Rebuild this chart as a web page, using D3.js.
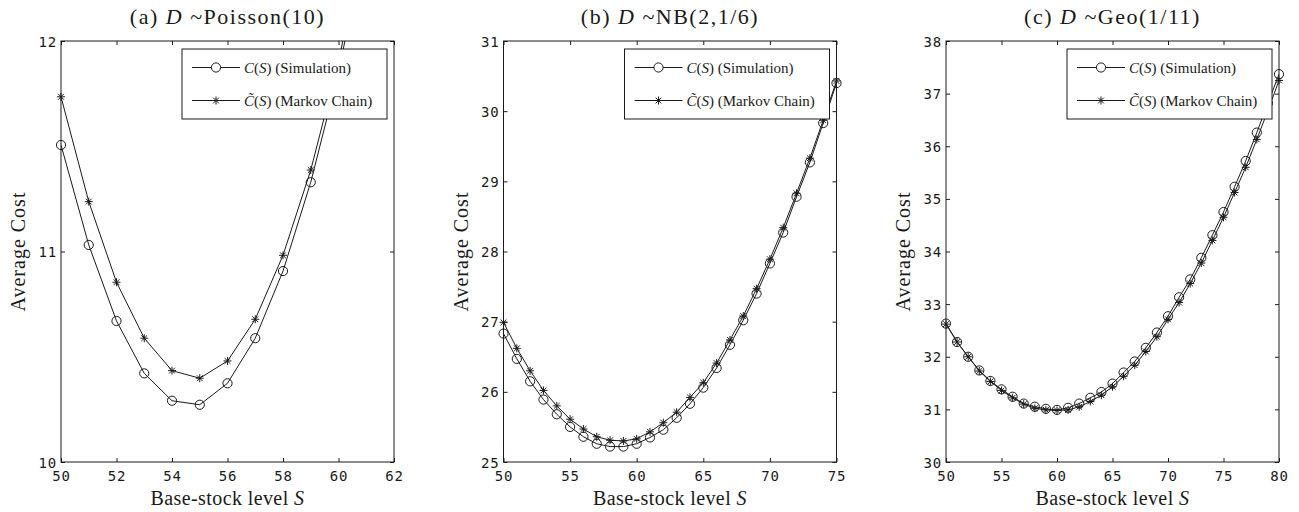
<!DOCTYPE html>
<html><head><meta charset="utf-8">
<script src="https://cdn.jsdelivr.net/npm/d3@7/dist/d3.min.js"></script>
<style>body{margin:0;background:#fff}svg{display:block}</style>
</head><body><svg id="c" width="1299" height="512"></svg>
<script>
// ---------- data ----------
const levelsA = [50,51,52,53,54,55,56,57,58,59,60,61,62];
const simA = [11.506,11.031,10.670,10.421,10.291,10.272,10.374,10.588,10.907,11.329,11.85,12.50,13.20];
const mcA  = [11.735,11.237,10.854,10.588,10.434,10.398,10.480,10.678,10.982,11.387,11.90,12.55,13.25];

const levelsB = [50,51,52,53,54,55,56,57,58,59,60,61,62,63,64,65,66,67,68,69,70,71,72,73,74,75];
const simB = [26.83,26.47,26.15,25.89,25.68,25.50,25.36,25.26,25.22,25.22,25.26,25.35,25.46,25.63,25.83,26.06,26.34,26.67,27.02,27.40,27.83,28.27,28.78,29.27,29.83,30.40];
const mcB  = [26.99,26.62,26.30,26.02,25.80,25.61,25.47,25.36,25.31,25.30,25.33,25.43,25.56,25.71,25.92,26.13,26.41,26.74,27.08,27.47,27.89,28.34,28.83,29.33,29.87,30.43];

const levelsC = [50,51,52,53,54,55,56,57,58,59,60,61,62,63,64,65,66,67,68,69,70,71,72,73,74,75,76,77,78,79,80];
const simC = [32.63,32.28,32.00,31.74,31.54,31.38,31.24,31.11,31.05,31.01,30.99,31.03,31.11,31.22,31.33,31.49,31.70,31.91,32.17,32.46,32.77,33.13,33.47,33.88,34.31,34.75,35.23,35.72,36.26,36.82,37.37];
const mcC  = [32.62,32.28,32.00,31.73,31.53,31.36,31.22,31.10,31.02,30.99,30.98,30.99,31.05,31.15,31.27,31.43,31.63,31.84,32.10,32.38,32.71,33.03,33.39,33.78,34.21,34.65,35.12,35.60,36.13,36.68,37.25];

const xTicksA = [50,52,54,56,58,60,62];
const yTicksA = [10,11,12];
const xTicksB = [50,55,60,65,70,75];
const yTicksB = [25,26,27,28,29,30,31];
const xTicksC = [50,55,60,65,70,75,80];
const yTicksC = [30,31,32,33,34,35,36,37,38];

const titlePrefix = ["(a) ","(b) ","(c) "];
const titleDist = ["~Poisson(10)","~NB(2,1/6)","~Geo(1/11)"];
const legendSim = ["C","(","S",") (Simulation)"];
const legendMC = ["C\u0303","(","S",") (Markov Chain)"];
const xLabelText = "Base-stock level ";
const yLabelText = "Average Cost";

// ---------- layout ----------
const svg = d3.select("#c");
const TOP = 41, BOTTOM = 462, W = 333;
const lefts = [61, 503.5, 946];
const panels = [
  {levels: levelsA, sim: simA, mc: mcA, xt: xTicksA, yt: yTicksA},
  {levels: levelsB, sim: simB, mc: mcB, xt: xTicksB, yt: yTicksB},
  {levels: levelsC, sim: simC, mc: mcC, xt: xTicksC, yt: yTicksC}
];
const SERIF = "'Liberation Serif', 'Times New Roman', serif";
const TICKF = "'DejaVu Sans Mono', monospace";
const INK = "#1a1a1a";

function starPath(r){
  const d = r*0.72;
  return `M${-r},0L${r},0M0,${-r}L0,${r}M${-d},${-d}L${d},${d}M${-d},${d}L${d},${-d}`;
}

panels.forEach((p, i) => {
  const L = lefts[i], R = L + W;
  const x = d3.scaleLinear().domain([p.xt[0], p.xt[p.xt.length-1]]).range([L, R]);
  const y = d3.scaleLinear().domain([p.yt[0], p.yt[p.yt.length-1]]).range([BOTTOM, TOP]);
  const g = svg.append("g");

  g.append("clipPath").attr("id", "clip"+i).append("rect")
    .attr("x", L).attr("y", TOP).attr("width", W).attr("height", BOTTOM-TOP);

  // axes (inward ticks on all four sides)
  const tl = 4;
  const axB = g.append("g").attr("transform", `translate(0,${BOTTOM})`)
    .call(d3.axisBottom(x).tickValues(p.xt).tickSize(-tl).tickPadding(9).tickFormat(d3.format("d")));
  const axT = g.append("g").attr("transform", `translate(0,${TOP})`)
    .call(d3.axisTop(x).tickValues(p.xt).tickSize(-tl).tickFormat(""));
  const axL = g.append("g").attr("transform", `translate(${L},0)`)
    .call(d3.axisLeft(y).tickValues(p.yt).tickSize(-tl).tickPadding(4).tickFormat(d3.format("d")));
  const axR = g.append("g").attr("transform", `translate(${R},0)`)
    .call(d3.axisRight(y).tickValues(p.yt).tickSize(-tl).tickFormat(""));
  [axB, axT, axL, axR].forEach(a => {
    a.select(".domain").remove();
    a.selectAll("line").attr("stroke", INK).attr("stroke-width", 1);
    a.selectAll("text").attr("font-family", TICKF).attr("font-size", 14)
      .attr("fill", INK).attr("letter-spacing", 0.8);
  });
  axB.selectAll("text").attr("dy", "0.71em");
  axL.selectAll("text").attr("dy", "0.36em");

  g.append("rect").attr("x", L).attr("y", TOP).attr("width", W).attr("height", BOTTOM-TOP)
    .attr("fill", "none").attr("stroke", INK).attr("stroke-width", 1);

  const line = d3.line().x(d => x(d[0])).y(d => y(d[1]));
  const series = [
    {vals: p.sim, kind: "o"},
    {vals: p.mc, kind: "*"}
  ];
  const [ymin, ymax] = y.domain();
  series.forEach(s => {
    const pts = p.levels.map((lv, k) => [lv, s.vals[k]]);
    g.append("path").datum(pts).attr("d", line).attr("clip-path", `url(#clip${i})`)
      .attr("fill", "none").attr("stroke", INK).attr("stroke-width", 1);
    const vis = pts.filter(d => d[1] >= ymin && d[1] <= ymax);
    if (s.kind === "o") {
      g.selectAll(null).data(vis).join("circle")
        .attr("cx", d => x(d[0])).attr("cy", d => y(d[1])).attr("r", 4.6)
        .attr("fill", "none").attr("stroke", INK).attr("stroke-width", 1);
    } else {
      g.selectAll(null).data(vis).join("path")
        .attr("transform", d => `translate(${x(d[0])},${y(d[1])})`)
        .attr("d", starPath(4)).attr("fill", "none").attr("stroke", INK).attr("stroke-width", 1);
    }
  });

  // legend
  const lx = R - 7 - 205, ly = TOP + 8, lw = 205, lh = 70;
  const lg = g.append("g");
  lg.append("rect").attr("x", lx).attr("y", ly).attr("width", lw).attr("height", lh)
    .attr("fill", "#fff").attr("stroke", INK).attr("stroke-width", 1);
  const rows = [{txt: legendSim, kind: "o", yy: ly + 18.5}, {txt: legendMC, kind: "*", yy: ly + 51.5}];
  rows.forEach(r => {
    lg.append("line").attr("x1", lx + 10).attr("x2", lx + 58).attr("y1", r.yy).attr("y2", r.yy)
      .attr("stroke", INK).attr("stroke-width", 1);
    if (r.kind === "o") {
      lg.append("circle").attr("cx", lx + 34).attr("cy", r.yy).attr("r", 4.6)
        .attr("fill", "#fff").attr("stroke", INK).attr("stroke-width", 1);
    } else {
      lg.append("path").attr("transform", `translate(${lx+34},${r.yy})`).attr("d", starPath(4))
        .attr("fill", "none").attr("stroke", INK).attr("stroke-width", 1);
    }
    const t = lg.append("text").attr("x", lx + 62).attr("y", r.yy + 5)
      .attr("font-family", SERIF).attr("font-size", 15).attr("fill", INK);
    t.append("tspan").attr("font-style", "italic").text(r.txt[0]);
    t.append("tspan").text(r.txt[1]);
    t.append("tspan").attr("font-style", "italic").text(r.txt[2]);
    t.append("tspan").text(r.txt[3]);
  });

  // title
  const cx = (L + R) / 2;
  const tt = g.append("text").attr("x", cx).attr("y", 24).attr("text-anchor", "middle")
    .attr("font-family", SERIF).attr("font-size", 22).attr("fill", INK).attr("letter-spacing", 1.5);
  tt.append("tspan").text(titlePrefix[i]);
  tt.append("tspan").attr("font-style", "italic").text("D");
  tt.append("tspan").text(" " + titleDist[i]);

  // x label
  const xl = g.append("text").attr("x", cx).attr("y", 505).attr("text-anchor", "middle")
    .attr("font-family", SERIF).attr("font-size", 20).attr("fill", INK).attr("letter-spacing", 0.4);
  xl.append("tspan").text(xLabelText);
  xl.append("tspan").attr("font-style", "italic").text("S");

  // y label
  g.append("text").attr("transform", `translate(${L - 36},${(TOP + BOTTOM) / 2}) rotate(-90)`)
    .attr("text-anchor", "middle").attr("font-family", SERIF).attr("font-size", 20)
    .attr("fill", INK).attr("letter-spacing", 1).text(yLabelText);
});
</script></body></html>
